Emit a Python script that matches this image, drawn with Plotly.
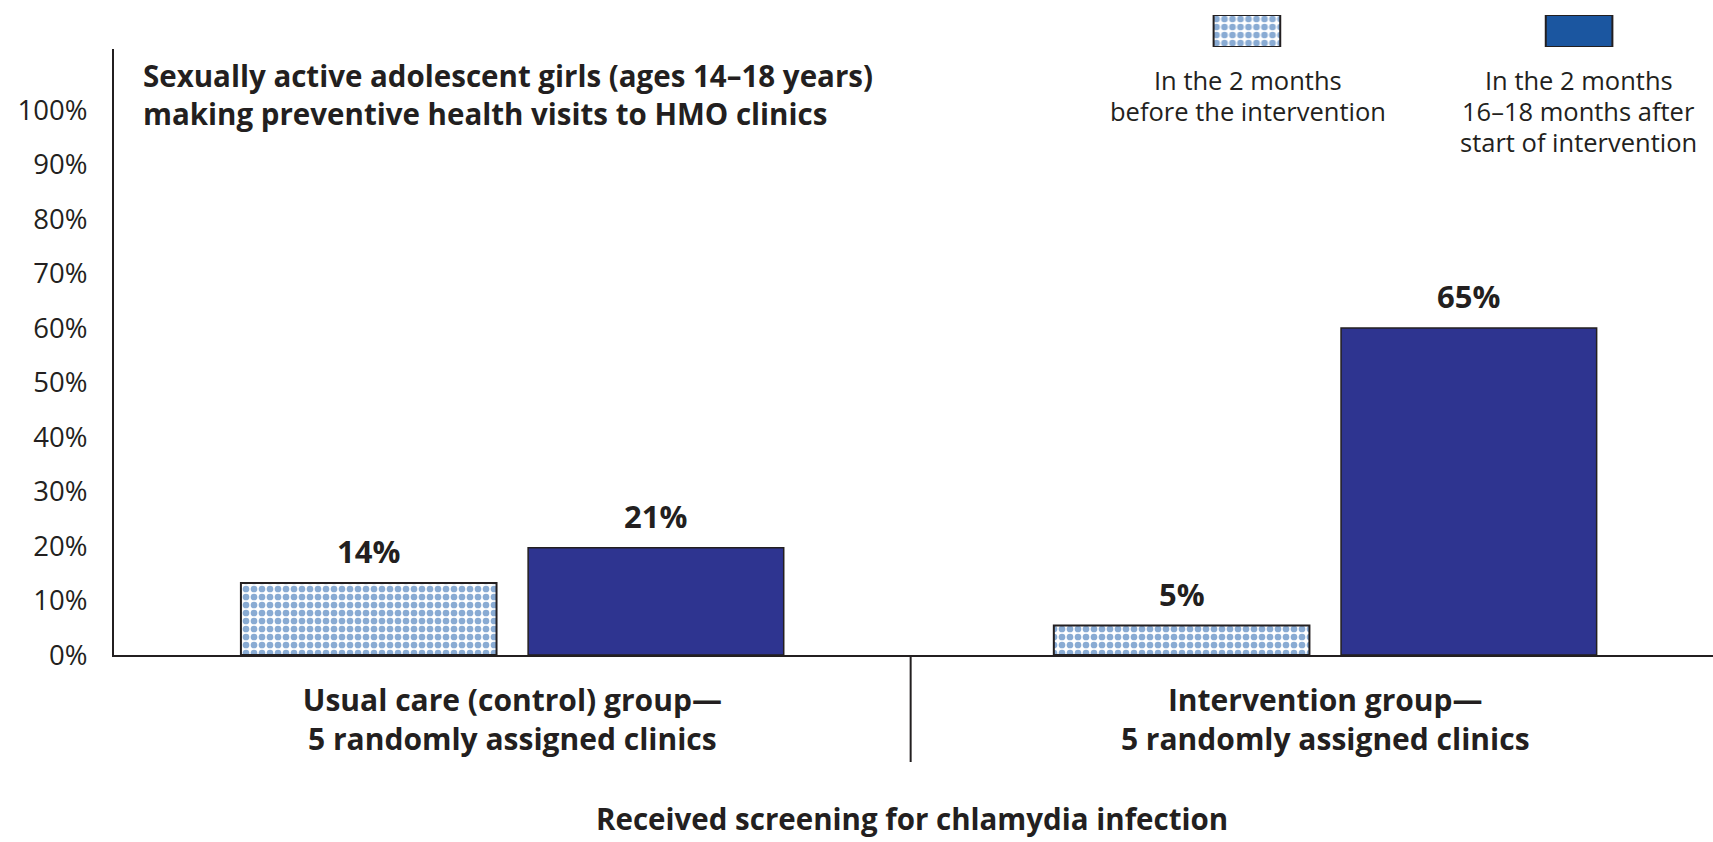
import plotly.graph_objects as go

# ---- data ----
groups = ["Usual care (control) group—<br>5 randomly assigned clinics",
          "Intervention group—<br>5 randomly assigned clinics"]
series_lines = [["In the 2 months", "before the intervention"],
                ["In the 2 months", "16–18 months after", "start of intervention"]]
before_heights = [13.2, 5.4]      # bar heights as drawn
after_heights = [19.7, 60.0]
before_labels = ["14%", "5%"]     # printed labels
after_labels = ["21%", "65%"]
y_ticks = [0, 10, 20, 30, 40, 50, 60, 70, 80, 90, 100]
y_tick_labels = ["0%", "10%", "20%", "30%", "40%", "50%", "60%", "70%", "80%", "90%", "100%"]
title_lines = ["Sexually active adolescent girls (ages 14–18 years)",
               "making preventive health visits to HMO clinics"]
x_title = "Received screening for chlamydia infection"

# ---- style ----
FONT = "Open Sans"
INK = "#231f20"
NAVY = "#2e3490"
KEY_BLUE = "#1b56a0"
PAT_BLUE = "#1457a8"

W, H = 1713, 842
ML, MR, MT, MB = 114, 0, 10, 187
PW = W - ML - MR
PH = H - MT - MB
base_px = H - MB


def py(pix):
    return (base_px - pix) / PH


def px(pix):
    return (pix - ML) / PW


x_idx = list(range(len(groups)))
pattern = dict(shape=".", fgcolor=PAT_BLUE, bgcolor="white", size=8, solidity=0.55)

fig = go.Figure()
fig.add_trace(go.Bar(x=x_idx, y=before_heights, name="before",
                     marker=dict(color="white", pattern=pattern,
                                 line=dict(color=INK, width=2)),
                     hoverinfo="skip"))
fig.add_trace(go.Bar(x=x_idx, y=after_heights, name="after",
                     marker=dict(color=NAVY, line=dict(color=INK, width=1.5)),
                     hoverinfo="skip"))

# legend keys on a small overlay axis
fig.add_trace(go.Bar(x=[0], y=[1], xaxis="x2", yaxis="y2", width=0.2006, offset=-0.1003,
                     marker=dict(color="white", pattern=pattern,
                                 line=dict(color=INK, width=2)),
                     hoverinfo="skip"))
fig.add_trace(go.Bar(x=[1], y=[1], xaxis="x2", yaxis="y2", width=0.2006, offset=-0.1003,
                     marker=dict(color=KEY_BLUE, line=dict(color=INK, width=2)),
                     hoverinfo="skip"))

slot_half = 0.1767
LABEL = dict(family=FONT, size=31, color=INK)
BOLD = dict(family=FONT, size=29.5, color=INK)
REG = dict(family=FONT, size=25.5, color=INK)
annotations = []
for i in x_idx:
    annotations.append(dict(x=i - slot_half, y=before_heights[i], xref="x", yref="y",
                            text="<b>%s</b>" % before_labels[i], showarrow=False,
                            yanchor="middle", yshift=32, font=LABEL))
    annotations.append(dict(x=i + slot_half, y=after_heights[i], xref="x", yref="y",
                            text="<b>%s</b>" % after_labels[i], showarrow=False,
                            yanchor="middle", yshift=32, font=LABEL))

annotations.append(dict(x=px(141), y=py(94), xref="paper", yref="paper",
                        xanchor="left", yanchor="middle", align="left",
                        text="<b>%s</b>" % "<br>".join(title_lines),
                        showarrow=False, font=BOLD))
annotations.append(dict(x=px(912), y=py(818), xref="paper", yref="paper",
                        xanchor="center", yanchor="middle",
                        text="<b>%s</b>" % x_title, showarrow=False, font=BOLD))
for cx, lines in zip([1247.5, 1578.5], series_lines):
    for k, line in enumerate(lines):
        annotations.append(dict(x=px(cx), y=py(80 + 31.2 * k), xref="paper", yref="paper",
                                xanchor="center", yanchor="middle",
                                text=line, showarrow=False, font=REG))

fig.update_layout(
    width=W, height=H,
    margin=dict(l=ML, r=MR, t=MT, b=MB, pad=0),
    paper_bgcolor="white", plot_bgcolor="white",
    barmode="group", bargap=0.2934, bargroupgap=0.11,
    showlegend=False,
    font=dict(family=FONT, color=INK),
    xaxis=dict(range=[-0.49, 1.477], tickmode="array", tickvals=x_idx,
               ticktext=["<b>%s</b>" % g for g in groups],
               tickfont=dict(family=FONT, size=30, color=INK),
               showline=True, linecolor=INK, linewidth=2, ticks="",
               showgrid=False, zeroline=False, ticklabelstandoff=18,
               fixedrange=True),
    yaxis=dict(range=[0, (base_px - 49) / 5.45], domain=[0, py(49)],
               tickmode="array", tickvals=y_ticks, ticktext=y_tick_labels,
               tickfont=dict(family=FONT, size=27.5, color=INK),
               showline=True, linecolor=INK, linewidth=2, ticks="",
               showgrid=False, zeroline=False, ticklabelstandoff=19,
               fixedrange=True),
    xaxis2=dict(domain=[px(1180.5), px(1645.5)], range=[-0.2, 1.2], anchor="y2",
                visible=False, fixedrange=True),
    yaxis2=dict(domain=[py(47), py(15)], range=[0, 1], anchor="x2",
                visible=False, fixedrange=True),
    annotations=annotations,
    shapes=[dict(type="line", xref="x", yref="paper", x0=0.49, x1=0.49,
                 y0=0, y1=py(762), line=dict(color=INK, width=2))],
)

fig.write_html("out.html", config={"displayModeBar": False},
               post_script="document.body.style.margin='0';")
